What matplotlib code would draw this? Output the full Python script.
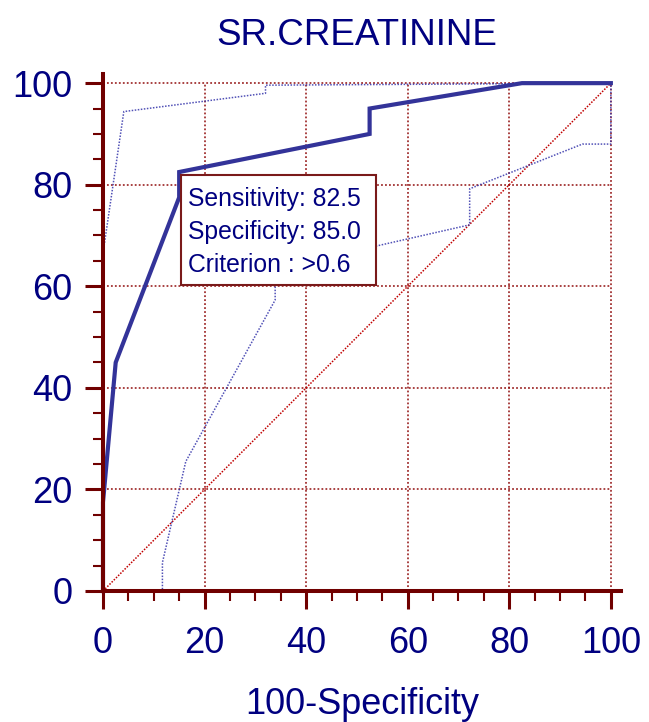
import matplotlib
matplotlib.use("Agg")
import matplotlib.pyplot as plt
from matplotlib.patches import Rectangle

plt.rcParams['font.family'] = ['Liberation Sans', 'DejaVu Sans']

# ROC curve (100-Specificity, Sensitivity)
roc_x = [0, 0, 2.5, 15, 15, 52.5, 52.5, 82.5, 100]
roc_y = [0, 17.5, 45, 77.5, 82.5, 90, 95, 100, 100]

# Upper confidence band
up_x = [0, 0, 4.1, 32, 32, 100]
up_y = [0, 66.5, 94.4, 98, 99.6, 100]

# Lower confidence band
lo_x = [0, 11.7, 11.7, 16.3, 33.9, 33.9, 72.2, 72.2, 94.4, 100, 100]
lo_y = [0, 0, 5.6, 25.5, 57.3, 63.4, 72.1, 79.2, 88, 88, 100]

major_ticks = [0, 20, 40, 60, 80, 100]
minor_ticks = [v for v in range(0, 101, 5) if v % 20]

title = "SR.CREATININE"
xlabel = "100-Specificity"
box_lines = ["Sensitivity: 82.5", "Specificity: 85.0", "Criterion : >0.6"]

navy = "#000080"
spine_c = "#700000"
W, H = 649, 722
fig = plt.figure(figsize=(W / 100, H / 100), dpi=100)
ax = fig.add_axes([103 / W, 131 / H, 518 / W, 517 / H])
ax.set_xlim(0, 102)
ax.set_ylim(0, 101.8)

# grid
for v in major_ticks:
    ax.plot([v, v], [0, 100], color="#8B0000", lw=1.3, ls=(0, (1, 1.2)), alpha=0.8, zorder=1, clip_on=False)
    ax.plot([0, 100], [v, v], color="#8B0000", lw=1.3, ls=(0, (1, 1.2)), alpha=0.8, zorder=1, clip_on=False)

# diagonal
ax.plot([0, 100], [0, 100], color="#C00000", lw=1.1, ls=(0, (1, 1)), zorder=2)

# confidence bands
ax.plot(up_x, up_y, color="#3333AA", lw=1.1, ls=(0, (1, 1)), alpha=0.85, zorder=3, clip_on=False)
ax.plot(lo_x, lo_y, color="#3333AA", lw=1.1, ls=(0, (1, 1)), alpha=0.85, zorder=3, clip_on=False)

# ROC curve
ax.plot(roc_x, roc_y, color="#333399", lw=3.0, zorder=4, clip_on=False, solid_joinstyle="miter")

# annotation box
ax.add_patch(Rectangle((15.35, 60.2), 38.4, 21.7, facecolor="white", edgecolor="#7A1A1A", lw=1.5, zorder=5))
for i, s in enumerate(box_lines):
    ax.text(16.8, 75.9 - i * 6.5, s, fontsize=17.8, color=navy, zorder=6, va="baseline", ha="left")

for side in ["top", "right"]:
    ax.spines[side].set_visible(False)
for side in ["left", "bottom"]:
    ax.spines[side].set_color(spine_c)
    ax.spines[side].set_linewidth(2.9)
    ax.spines[side].set_zorder(7)

ax.set_xticks(major_ticks)
ax.set_yticks(major_ticks)
ax.set_xticks(minor_ticks, minor=True)
ax.set_yticks(minor_ticks, minor=True)
ax.tick_params(which="major", direction="out", length=13, width=2.2, color=spine_c,
               labelsize=26, labelcolor=navy, pad=9)
ax.tick_params(axis="x", which="major", pad=12)
ax.tick_params(which="minor", direction="out", length=7, width=1.5, color=spine_c)

ax.set_xlabel(xlabel, fontsize=26, color=navy, labelpad=19)
fig.text(357 / W, 1 - 45 / H, title, fontsize=26.5, color=navy, ha="center", va="baseline")

fig.savefig("out.png", dpi=100)
